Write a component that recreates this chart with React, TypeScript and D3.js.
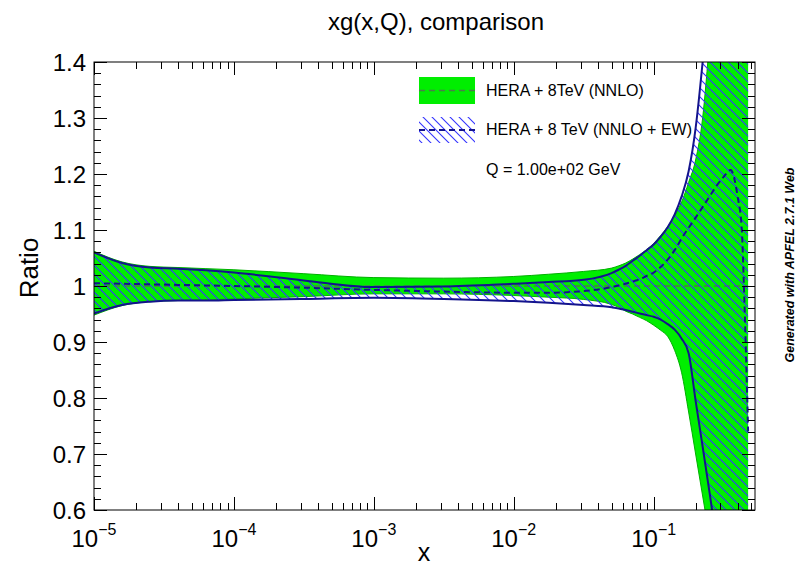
import React from "react";
import * as d3 from "d3";

// x grid (momentum fraction) shared by both PDF sets
const xValues = [
  1e-5, 1.585e-5, 2.512e-5, 3.981e-5, 6.31e-5, 1e-4, 3.162e-4, 1e-3, 3.162e-3, 1e-2,
  1.778e-2, 3.162e-2, 5.012e-2, 5.623e-2, 6.31e-2, 7.079e-2, 7.943e-2, 8.913e-2, 0.1,
  0.1122, 0.1259, 0.1413, 0.1585, 0.1778, 0.1995, 0.2239, 0.2512, 0.2818, 0.3162,
  0.3548, 0.3981, 0.4266, 0.4416, 0.4732,
];

// HERA + 8TeV (NNLO): ratio band edges (central value is 1)
const nnloUpper = [
  1.062, 1.043, 1.035, 1.033, 1.031, 1.029, 1.022, 1.015, 1.014, 1.017,
  1.021, 1.026, 1.032, 1.036, 1.041, 1.048, 1.056, 1.065, 1.076,
  1.09, 1.106, 1.125, 1.15, 1.185, 1.225, 1.3, 1.44, 1.6, 1.8,
  2.0, 2.3, 2.5, 2.6, 2.8,
];
const nnloLower = [
  0.948, 0.965, 0.972, 0.974, 0.975, 0.977, 0.981, 0.986, 0.986, 0.983,
  0.98, 0.976, 0.967, 0.962, 0.955, 0.95, 0.944, 0.938, 0.93,
  0.921, 0.91, 0.885, 0.845, 0.775, 0.7, 0.625, 0.55, 0.47, 0.39,
  0.31, 0.23, 0.18, 0.15, 0.1,
];

// HERA + 8 TeV (NNLO + EW): ratio to the NNLO set
const ewUpper = [
  1.06, 1.041, 1.033, 1.031, 1.028, 1.024, 1.01, 0.998, 0.999, 1.004,
  1.007, 1.011, 1.023, 1.029, 1.036, 1.045, 1.054, 1.064, 1.074,
  1.088, 1.105, 1.128, 1.16, 1.205, 1.282, 1.4, 1.54, 1.7, 1.9,
  2.1, 2.4, 2.6, 2.7, 2.9,
];
const ewCentral = [
  1.005, 1.004, 1.003, 1.002, 1.001, 1.0, 0.997, 0.993, 0.99, 0.988,
  0.988, 0.991, 0.998, 1.001, 1.004, 1.008, 1.012, 1.018, 1.024,
  1.034, 1.047, 1.064, 1.085, 1.104, 1.122, 1.141, 1.16, 1.179, 1.195,
  1.207, 1.16, 1.1, 1.0, 0.74,
];
const ewLower = [
  0.951, 0.966, 0.972, 0.974, 0.974, 0.975, 0.977, 0.979, 0.977, 0.973,
  0.97, 0.966, 0.962, 0.96, 0.957, 0.954, 0.951, 0.948, 0.945,
  0.94, 0.932, 0.922, 0.906, 0.88, 0.795, 0.713, 0.63, 0.545, 0.46,
  0.38, 0.3, 0.25, 0.22, 0.15,
];

const yTicks = [0.6, 0.7, 0.8, 0.9, 1.0, 1.1, 1.2, 1.3, 1.4];
const yTickLabels = ["0.6", "0.7", "0.8", "0.9", "1", "1.1", "1.2", "1.3", "1.4"];
const xDecades = [1e-5, 1e-4, 1e-3, 1e-2, 1e-1];
const xDecadeExponents = ["\u22125", "\u22124", "\u22123", "\u22122", "\u22121"];

const legendLabels = ["HERA + 8TeV (NNLO)", "HERA + 8 TeV (NNLO + EW)"];
const scaleNote = "Q = 1.00e+02 GeV";

const W = 797;
const H = 568;
const frame = { left: 94, right: 755, top: 62, bottom: 510 };
const FONT = "'Liberation Sans', Arial, Helvetica, sans-serif";

const GREEN = "#00ee00";
const GREEN_EDGE = "#00b000";
const NAVY = "#14148c";
const HATCH = "#3434ff";
const REF_LINE = "#4a7d4a";

export default function App() {
  const x = d3.scaleLog().domain([1e-5, 0.53]).range([frame.left, frame.right]);
  const y = d3.scaleLinear().domain([0.6, 1.4]).range([frame.bottom, frame.top]);

  const idx = xValues.map((_, i) => i);
  const curve = d3.curveMonotoneX;

  const nnloArea = d3
    .area<number>()
    .x((i) => x(xValues[i]))
    .y0((i) => y(nnloLower[i]))
    .y1((i) => y(nnloUpper[i]))
    .curve(curve)(idx)!;
  const ewArea = d3
    .area<number>()
    .x((i) => x(xValues[i]))
    .y0((i) => y(ewLower[i]))
    .y1((i) => y(ewUpper[i]))
    .curve(curve)(idx)!;

  const lineOf = (vals: number[]) =>
    d3
      .line<number>()
      .x((i) => x(xValues[i]))
      .y((i) => y(vals[i]))
      .curve(curve)(idx)!;

  // minor ticks
  const yMinor = d3.range(0.6, 1.4001, 0.02).map((v) => +v.toFixed(3));
  const xMinor: number[] = [];
  for (let e = -5; e <= -1; e++) {
    for (let m = 2; m <= 9; m++) {
      const v = m * Math.pow(10, e);
      if (v <= 0.53) xMinor.push(v);
    }
  }

  const majorLen = 13;
  const minorLen = 7;
  const hs = 9; // hatch spacing

  return (
    <svg
      width={W}
      height={H}
      style={{ position: "absolute", left: 0, top: 0, background: "#fff" }}
      fontFamily={FONT}
    >
      <defs>
        <clipPath id="plotClip">
          <rect
            x={frame.left}
            y={frame.top}
            width={frame.right - frame.left}
            height={frame.bottom - frame.top}
          />
        </clipPath>
        <pattern id="hatch" patternUnits="userSpaceOnUse" width={hs} height={hs}>
          <path
            d={`M-2,-2 L${hs + 2},${hs + 2} M-2,${hs - 2} L2,${hs + 2} M${hs - 2},-2 L${hs + 2},2`}
            stroke={HATCH}
            strokeWidth={1.1}
          />
        </pattern>
      </defs>

      <rect x={0} y={0} width={W} height={H} fill="#fff" />

      {/* bands */}
      <g clipPath="url(#plotClip)">
        <path d={nnloArea} fill={GREEN} stroke="none" />
        <path d={lineOf(nnloUpper)} fill="none" stroke={GREEN_EDGE} strokeWidth={1} />
        <path d={lineOf(nnloLower)} fill="none" stroke={GREEN_EDGE} strokeWidth={1} />
        <line
          x1={x(xValues[0])}
          x2={x(xValues[xValues.length - 1])}
          y1={y(1)}
          y2={y(1)}
          stroke={REF_LINE}
          strokeWidth={1.5}
          strokeDasharray="6,4"
        />
        <path d={ewArea} fill="url(#hatch)" stroke="none" />
        <path d={lineOf(ewUpper)} fill="none" stroke={NAVY} strokeWidth={2} />
        <path d={lineOf(ewLower)} fill="none" stroke={NAVY} strokeWidth={2} />
        <path
          d={lineOf(ewCentral)}
          fill="none"
          stroke={NAVY}
          strokeWidth={2}
          strokeDasharray="6,4"
        />
      </g>

      {/* frame */}
      <rect
        x={frame.left}
        y={frame.top}
        width={frame.right - frame.left}
        height={frame.bottom - frame.top}
        fill="none"
        stroke="#000"
        strokeWidth={1}
      />

      {/* ticks on all four sides */}
      <g stroke="#000" strokeWidth={1}>
        {yMinor.map((v) => {
          const major = yTicks.some((t) => Math.abs(t - v) < 1e-6);
          const len = major ? majorLen : minorLen;
          const yy = Math.round(y(v)) + 0.5;
          return (
            <g key={"y" + v}>
              <line x1={frame.left} x2={frame.left + len} y1={yy} y2={yy} />
              <line x1={frame.right} x2={frame.right - len} y1={yy} y2={yy} />
            </g>
          );
        })}
        {xDecades.map((v) => {
          const xx = Math.round(x(v)) + 0.5;
          return (
            <g key={"xM" + v}>
              <line x1={xx} x2={xx} y1={frame.bottom} y2={frame.bottom - majorLen} />
              <line x1={xx} x2={xx} y1={frame.top} y2={frame.top + majorLen} />
            </g>
          );
        })}
        {xMinor.map((v) => {
          const xx = Math.round(x(v)) + 0.5;
          return (
            <g key={"xm" + v}>
              <line x1={xx} x2={xx} y1={frame.bottom} y2={frame.bottom - minorLen} />
              <line x1={xx} x2={xx} y1={frame.top} y2={frame.top + minorLen} />
            </g>
          );
        })}
      </g>

      {/* y tick labels */}
      {yTicks.map((v, i) => (
        <text
          key={"yl" + v}
          x={86}
          y={y(v) + 8.5}
          fontSize={24}
          textAnchor="end"
          fill="#000"
        >
          {yTickLabels[i]}
        </text>
      ))}

      {/* x tick labels */}
      {xDecades.map((v, i) => (
        <text key={"xl" + v} x={x(v)} y={547} fontSize={24} textAnchor="middle" fill="#000">
          <tspan>10</tspan>
          <tspan fontSize={16} dy={-12}>
            {xDecadeExponents[i]}
          </tspan>
        </text>
      ))}

      {/* titles */}
      <text x={436} y={30} fontSize={24} textAnchor="middle" fill="#000">
        xg(x,Q), comparison
      </text>
      <text x={424} y={561} fontSize={25} textAnchor="middle" fill="#000">
        x
      </text>
      <text
        transform="translate(38,268) rotate(-90)"
        fontSize={26}
        textAnchor="middle"
        fill="#000"
      >
        Ratio
      </text>

      {/* legend */}
      <rect x={419} y={77} width={56} height={27} fill={GREEN} />
      <line x1={419} x2={475} y1={90.5} y2={90.5} stroke={REF_LINE} strokeWidth={1.5} strokeDasharray="6,4" />
      <rect x={419} y={117} width={56} height={26} fill="url(#hatch)" />
      <line x1={419} x2={475} y1={130} y2={130} stroke={NAVY} strokeWidth={2} strokeDasharray="6,4" />
      <text x={486} y={96} fontSize={16} fill="#000">
        {legendLabels[0]}
      </text>
      <text x={486} y={135} fontSize={16} fill="#000">
        {legendLabels[1]}
      </text>
      <text x={486} y={175} fontSize={16} fill="#000">
        {scaleNote}
      </text>

      {/* generator stamp */}
      <text
        transform="translate(794,265) rotate(-90)"
        fontSize={12.5}
        fontWeight="bold"
        fontStyle="italic"
        textAnchor="middle"
        fill="#000"
      >
        Generated with APFEL 2.7.1 Web
      </text>
    </svg>
  );
}
